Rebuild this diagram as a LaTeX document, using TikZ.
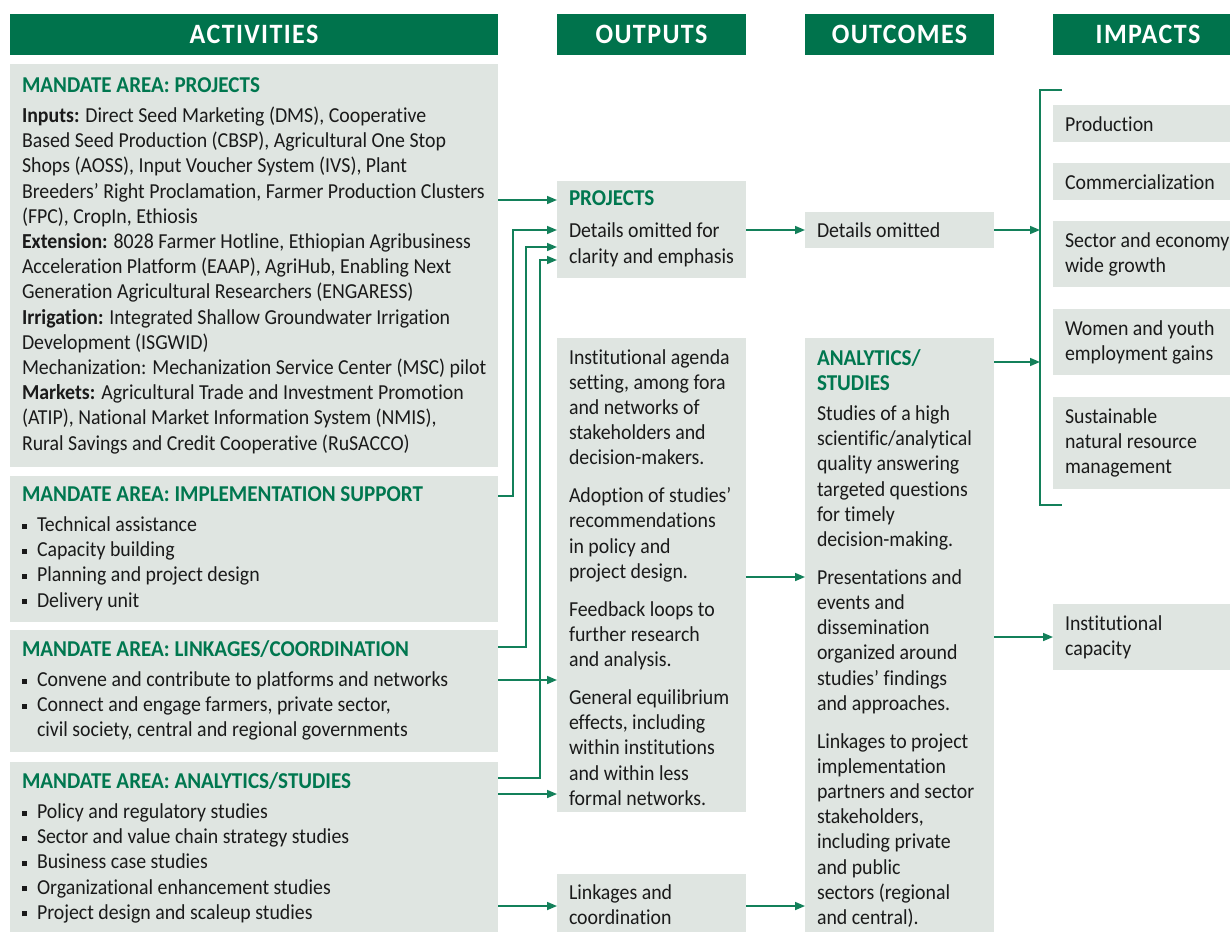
\documentclass[tikz,border=0pt]{standalone}
\usepackage{fontspec}
\setmainfont{Carlito}[FakeStretch=0.93,Ligatures=NoCommon]
\usetikzlibrary{arrows.meta}
\definecolor{hdr}{HTML}{00734C}
\definecolor{ttl}{HTML}{00774F}
\definecolor{boxc}{HTML}{DFE5E1}
\definecolor{ln}{HTML}{13805A}
\definecolor{txtc}{HTML}{1A1A1A}
\newdimen\px \px=0.75pt
\newcommand\tl[1]{\vtop{\baselineskip=18.9pt\lineskiplimit=-20pt\halign{##\hfil\cr#1\crcr}}}
\newcommand\gt[1]{\textcolor{ttl}{\fontsize{17}{18.9}\selectfont\bfseries #1}}
\newcommand\bul{\makebox[11.25pt][l]{\rule[2.2pt]{3.7pt}{3.7pt}}}
\newcommand\pg{\noalign{\vskip 9.5pt}}
\newcommand\tg{\noalign{\vskip 4pt}}
\begin{document}
\begin{tikzpicture}[x=0.75pt,y=-0.75pt,
  box/.style={fill=boxc, draw=none, anchor=north west, inner sep=0, outer sep=0},
  hdrbox/.style={fill=hdr, anchor=north west, inner sep=0, outer sep=0, text=white, font=\fontsize{21}{24}\selectfont\bfseries\addfontfeature{LetterSpace=5}},
  txt/.style={anchor=base west, inner sep=0, outer sep=0, text=txtc, font=\fontsize{16}{18.9}\selectfont},
  arr/.style={draw=ln, line width=1.2pt, -{Triangle[length=7.5pt,width=6pt]}},
  con/.style={draw=ln, line width=1.2pt}]
\useasboundingbox (0,0) rectangle (1230,932);
\clip (0,0) rectangle (1230,932);
% headers
\node[hdrbox, minimum width=488\px, minimum height=41\px] (hact) at (10,14) {ACTIVITIES};
\node[hdrbox, minimum width=189\px, minimum height=41\px] (hout) at (557,14) {OUTPUTS};
\node[hdrbox, minimum width=189\px, minimum height=41\px] (houc) at (805,14) {OUTCOMES};
\node[hdrbox, minimum width=190\px, minimum height=41\px] (himp) at (1053,14) {IMPACTS};
% activities
\node[box, minimum width=488\px, minimum height=403\px] (aproj) at (10,64) {};
\node[txt] (aprojt) at (22,92) {\tl{\gt{MANDATE AREA: PROJECTS}\cr\tg
\textbf{Inputs:} Direct Seed Marketing (DMS), Cooperative\cr
Based Seed Production (CBSP), Agricultural One Stop\cr
Shops (AOSS), Input Voucher System (IVS), Plant\cr
Breeders’ Right Proclamation, Farmer Production Clusters\cr
(FPC), CropIn, Ethiosis\cr
\textbf{Extension:} 8028 Farmer Hotline, Ethiopian Agribusiness\cr
Acceleration Platform (EAAP), AgriHub, Enabling Next\cr
Generation Agricultural Researchers (ENGARESS)\cr
\textbf{Irrigation:} Integrated Shallow Groundwater Irrigation\cr
Development (ISGWID)\cr
Mechanization: Mechanization Service Center (MSC) pilot\cr
\textbf{Markets:} Agricultural Trade and Investment Promotion\cr
(ATIP), National Market Information System (NMIS),\cr
Rural Savings and Credit Cooperative (RuSACCO)}};
\node[box, minimum width=488\px, minimum height=146\px] (aimpl) at (10,476) {};
\node[txt] (aimplt) at (22,501) {\tl{\gt{MANDATE AREA: IMPLEMENTATION SUPPORT}\cr\tg
\bul Technical assistance\cr
\bul Capacity building\cr
\bul Planning and project design\cr
\bul Delivery unit}};
\node[box, minimum width=488\px, minimum height=122\px] (alink) at (10,630) {};
\node[txt] (alinkt) at (22,656) {\tl{\gt{MANDATE AREA: LINKAGES/COORDINATION}\cr\tg
\bul Convene and contribute to platforms and networks\cr
\bul Connect and engage farmers, private sector,\cr
\hspace{11.25pt}civil society, central and regional governments}};
\node[box, minimum width=488\px, minimum height=170\px] (aanal) at (10,762) {};
\node[txt] (aanalt) at (22,788) {\tl{\gt{MANDATE AREA: ANALYTICS/STUDIES}\cr\tg
\bul Policy and regulatory studies\cr
\bul Sector and value chain strategy studies\cr
\bul Business case studies\cr
\bul Organizational enhancement studies\cr
\bul Project design and scaleup studies}};
% outputs
\node[box, minimum width=189\px, minimum height=97\px] (oproj) at (557,181) {};
\node[txt] (oprojt) at (569,205) {\tl{\gt{PROJECTS}\cr\noalign{\vskip 5.8pt}
Details omitted for\cr
clarity and emphasis}};
\node[box, minimum width=189\px, minimum height=474\px] (omid) at (557,338) {};
\node[txt] (omidt) at (569,364) {\tl{Institutional agenda\cr
setting, among fora\cr
and networks of\cr
stakeholders and\cr
decision-makers.\cr\pg
Adoption of studies’\cr
recommendations\cr
in policy and\cr
project design.\cr\pg
Feedback loops to\cr
further research\cr
and analysis.\cr\pg
General equilibrium\cr
effects, including\cr
within institutions\cr
and within less\cr
formal networks.}};
\node[box, minimum width=189\px, minimum height=58\px] (olink) at (557,874) {};
\node[txt] (olinkt) at (569,899) {\tl{Linkages and\cr coordination}};
% outcomes
\node[box, minimum width=189\px, minimum height=36\px] (cdet) at (805,212) {};
\node[txt] (cdett) at (817,237) {Details omitted};
\node[box, minimum width=189\px, minimum height=594\px] (canal) at (805,338) {};
\node[txt] (canalt) at (817,365) {\tl{\gt{ANALYTICS/}\cr
\gt{STUDIES}\cr\noalign{\vskip 3.75pt}
Studies of a high\cr
scientific/analytical\cr
quality answering\cr
targeted questions\cr
for timely\cr
decision-making.\cr\pg
Presentations and\cr
events and\cr
dissemination\cr
organized around\cr
studies’ findings\cr
and approaches.\cr\pg
Linkages to project\cr
implementation\cr
partners and sector\cr
stakeholders,\cr
including private\cr
and public\cr
sectors (regional\cr
and central).}};
% impacts
\node[box, minimum width=190\px, minimum height=37\px] (iprod) at (1053,105) {};
\node[txt] (iprodt) at (1065,131) {Production};
\node[box, minimum width=190\px, minimum height=37\px] (icomm) at (1053,163) {};
\node[txt] (icommt) at (1065,189) {Commercialization};
\node[box, minimum width=190\px, minimum height=66\px] (isect) at (1053,221) {};
\node[txt] (isectt) at (1065,247) {\tl{Sector and economy\cr wide growth}};
\node[box, minimum width=190\px, minimum height=66\px] (iwom) at (1053,309) {};
\node[txt] (iwomt) at (1065,335) {\tl{Women and youth\cr employment gains}};
\node[box, minimum width=190\px, minimum height=92\px] (isust) at (1053,397) {};
\node[txt] (isustt) at (1065,423) {\tl{Sustainable\cr natural resource\cr management}};
\node[box, minimum width=190\px, minimum height=66\px] (iinst) at (1053,604) {};
\node[txt] (iinstt) at (1065,630) {\tl{Institutional\cr capacity}};
% connectors
\draw[arr] (aproj.east |- 0,200) -- (oproj.west |- 0,200);
\draw[arr] (aimpl.east |- 0,496) -- ++(15,0) |- (oproj.west |- 0,230);
\draw[arr] (alink.east |- 0,647) -- ++(28,0) |- (oproj.west |- 0,247);
\draw[arr] (alink.east |- 0,680) -- (omid.west |- 0,680);
\draw[arr] (aanal.east |- 0,778) -- ++(42,0) |- (oproj.west |- 0,260);
\draw[arr] (aanal.east |- 0,794) -- (omid.west |- 0,794);
\draw[arr] (aanal.east |- 0,906) -- (olink.west |- 0,906);
\draw[arr] (oproj.east |- 0,230) -- (cdet.west |- 0,230);
\draw[arr] (omid.east |- 0,577) -- (canal.west |- 0,577);
\draw[arr] (olink.east |- 0,906) -- (canal.west |- 0,906);
\coordinate (bt) at (1040,90);
\coordinate (bb) at (1040,505);
\coordinate (btr) at (1062,90);
\coordinate (bbr) at (1062,505);
\draw[con] (btr) -- (bt) -- (bb) -- (bbr);
\draw[arr] (cdet.east |- 0,230) -- (bt |- 0,230);
\draw[arr] (canal.east |- 0,362) -- (bt |- 0,362);
\draw[arr] (canal.east |- 0,637) -- (iinst.west |- 0,637);
\end{tikzpicture}
\end{document}
